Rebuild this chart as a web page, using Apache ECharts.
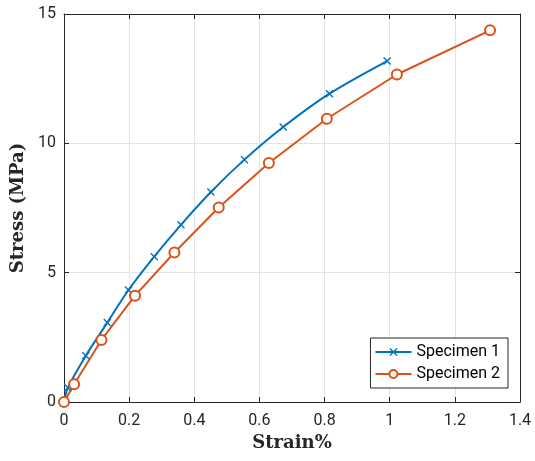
<!DOCTYPE html>
<html><head><meta charset="utf-8">
<script src="https://cdn.jsdelivr.net/npm/echarts@6/dist/echarts.min.js"></script>
<style>html,body{margin:0;padding:0;background:#fff}#c{width:535px;height:461px}</style>
</head><body><div id="c"></div>
<script>
const strain1 = [0, 0.012, 0.067, 0.133, 0.198, 0.277, 0.359, 0.451, 0.554, 0.673, 0.815, 0.992];
const stress1 = [0, 0.55, 1.79, 3.07, 4.33, 5.62, 6.85, 8.12, 9.37, 10.63, 11.92, 13.18];
const strain2 = [0, 0.031, 0.115, 0.218, 0.339, 0.475, 0.629, 0.807, 1.022, 1.308];
const stress2 = [0, 0.69, 2.40, 4.11, 5.78, 7.52, 9.24, 10.95, 12.66, 14.37];
const seriesNames = ['Specimen 1', 'Specimen 2'];
const xTicks = [0, 0.2, 0.4, 0.6, 0.8, 1, 1.2, 1.4];
const yTicks = [0, 5, 10, 15];

const blue = '#0072BD', orange = '#D95319', axisC = '#262626';
const xMark = 'path://M0,1.2L1.2,0L5,3.8L8.8,0L10,1.2L6.2,5L10,8.8L8.8,10L5,6.2L1.2,10L0,8.8L3.8,5Z';
const chart = echarts.init(document.getElementById('c'), null, {renderer: 'canvas'});
const fmtX = v => { const r = Math.round(v * 10) / 10; return String(r); };
const tickFont = {color: axisC, fontSize: 16, fontFamily: 'Roboto, Arial, sans-serif'};
const common = {
  axisLine: {show: true, onZero: false, lineStyle: {color: axisC, width: 1}},
  axisTick: {show: true, inside: true, length: 5, lineStyle: {color: axisC}},
};
chart.setOption({
  animation: false,
  grid: {left: 64, right: 15, top: 14, bottom: 59, containLabel: false},
  legend: {
    data: seriesNames, orient: 'vertical', right: 27, top: 338,
    backgroundColor: '#fff', borderColor: axisC, borderWidth: 1,
    padding: [6, 8, 6, 4], itemGap: 6, itemWidth: 36, itemHeight: 10,
    textStyle: {color: '#000', fontSize: 16, fontFamily: 'Roboto, Arial, sans-serif'}
  },
  xAxis: [{
    type: 'value', min: 0, max: 1.4, interval: 0.2, ...common,
    axisLabel: {...tickFont, margin: 11, formatter: fmtX},
    splitLine: {show: true, lineStyle: {color: '#e3e3e3'}},
    name: 'Strain%', nameLocation: 'middle', nameGap: 29,
    nameTextStyle: {fontFamily: '"DejaVu Serif", serif', fontWeight: 'bold', fontSize: 18, color: axisC}
  }, {
    type: 'value', min: 0, max: 1.4, interval: 0.2, position: 'top', ...common,
    axisLabel: {show: false}, splitLine: {show: false}
  }],
  yAxis: [{
    type: 'value', min: 0, max: 15, interval: 5, ...common,
    axisLabel: {...tickFont, margin: 8},
    splitLine: {show: true, lineStyle: {color: '#e3e3e3'}},
    name: 'Stress (MPa)', nameLocation: 'middle', nameGap: 34,
    nameTextStyle: {fontFamily: '"DejaVu Serif", serif', fontWeight: 'bold', fontSize: 18, color: axisC}
  }, {
    type: 'value', min: 0, max: 15, interval: 5, position: 'right', ...common,
    axisLabel: {show: false}, splitLine: {show: false}
  }],
  series: [{
    name: seriesNames[0], type: 'line', smooth: 0.3,
    data: strain1.map((x, i) => [x, stress1[i]]),
    symbol: xMark, symbolSize: 8, showAllSymbol: true,
    lineStyle: {color: blue, width: 2}, itemStyle: {color: blue}
  }, {
    name: seriesNames[1], type: 'line',
    data: strain2.map((x, i) => [x, stress2[i]]),
    symbol: 'emptyCircle', symbolSize: 10, showAllSymbol: true,
    lineStyle: {color: orange, width: 2}, itemStyle: {color: orange, borderWidth: 2}
  }]
});
</script></body></html>
